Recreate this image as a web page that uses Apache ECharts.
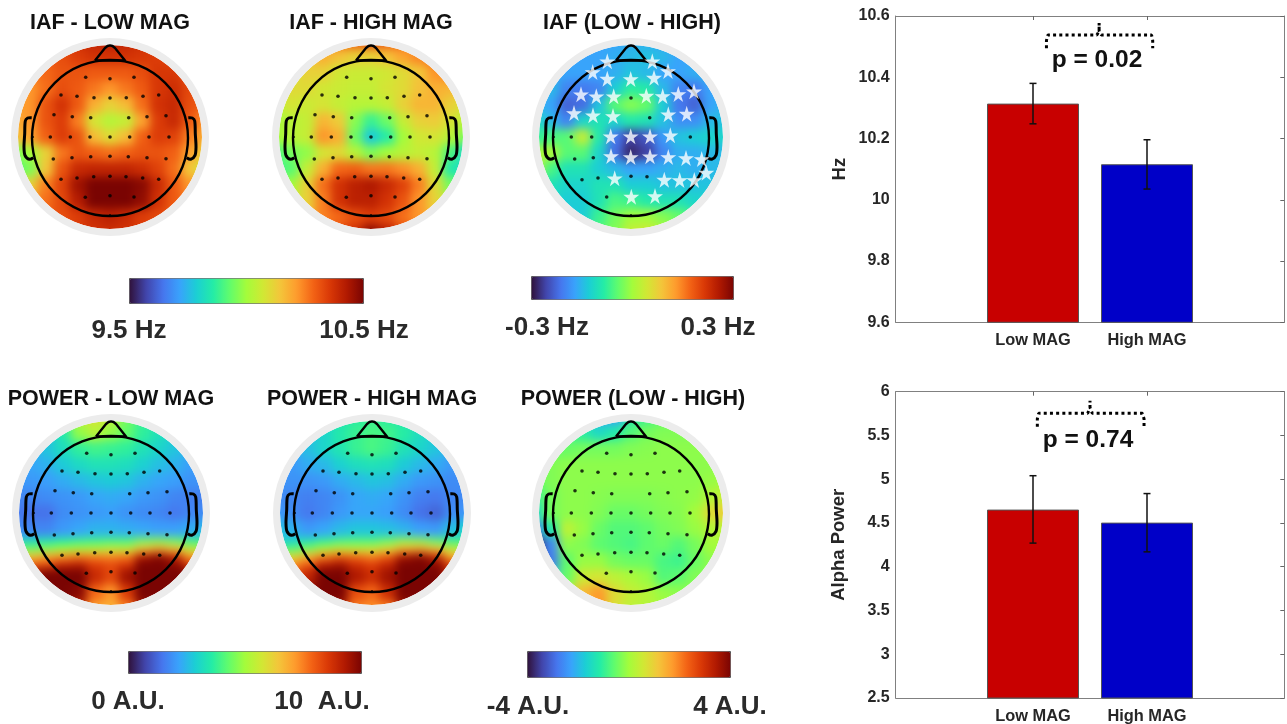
<!DOCTYPE html>
<html><head><meta charset="utf-8">
<style>html,body{margin:0;padding:0;background:#fff}#c{width:1287px;height:724px}</style>
<script src="https://cdn.jsdelivr.net/npm/echarts@6/dist/echarts.min.js"></script>
</head><body><div id="c"></div>
<script>
const n = null;
// topography grids, rows top to bottom, columns left to right
const gridStepsX = [-96,-80,-64,-48,-32,-16,0,16,32,48,64,80,96];
const gridStepsY = [-100,-92,-84,-76,-68,-60,-52,-44,-36,-28,-20,-12,-4,4,12,20,28,36,44,52,60,68,76,84,92,100];
const evenRowSpan = [2,2,2,2,2,2,2,2,2,2,2,2,2];
const bandRowSpan = [2,2,2,2,2,2,2,2,1,1,1,1,2,2,2];
const iafLow = [
[n,n,n,10.36,10.38,10.4,10.42,10.4,10.38,10.36,n,n,n],
[n,n,10.3,10.32,10.35,10.37,10.37,10.37,10.36,10.35,10.33,n,n],
[n,10.25,10.28,10.31,10.31,10.3,10.3,10.3,10.32,10.36,10.36,10.32,n],
[10.2,10.22,10.27,10.32,10.3,10.26,10.22,10.26,10.3,10.36,10.38,10.33,10.28],
[10.2,10.22,10.31,10.37,10.3,10.18,10.12,10.16,10.27,10.37,10.39,10.32,10.28],
[10.18,10.22,10.31,10.35,10.25,10.08,10.03,10.05,10.2,10.35,10.39,10.3,10.22],
[10.15,10.2,10.29,10.35,10.31,10.16,10.1,10.16,10.29,10.35,10.34,10.25,10.18],
[9.95,10.0,10.12,10.26,10.31,10.29,10.27,10.29,10.31,10.31,10.29,10.2,10.12],
[9.9,9.96,10.14,10.31,10.39,10.4,10.4,10.4,10.38,10.34,10.27,10.14,10.06],
[10.05,10.12,10.25,10.34,10.45,10.5,10.5,10.5,10.48,10.39,10.3,10.22,10.18],
[n,10.2,10.27,10.33,10.42,10.5,10.5,10.5,10.47,10.37,10.3,10.25,n],
[n,n,10.3,10.32,10.35,10.39,10.41,10.39,10.35,10.33,10.3,n,n],
[n,n,n,10.33,10.35,10.37,10.38,10.37,10.35,10.33,n,n,n]];
const iafHigh = [
[n,n,n,10.25,10.28,10.3,10.33,10.3,10.28,10.25,n,n,n],
[n,n,10.15,10.18,10.15,10.12,10.12,10.15,10.2,10.24,10.28,n,n],
[n,10.08,10.12,10.12,10.07,10.06,10.06,10.07,10.1,10.14,10.22,10.25,n],
[10.05,10.1,10.1,10.07,10.06,10.05,10.05,10.08,10.1,10.15,10.18,10.17,10.12],
[10.03,10.08,10.06,10.08,10.05,10.03,10.03,10.05,10.12,10.17,10.17,10.12,10.08],
[10.0,10.03,10.05,10.17,10.13,9.97,9.88,9.94,10.05,10.12,10.13,10.08,10.02],
[10.0,10.03,10.05,10.22,10.18,9.94,9.78,9.86,10.0,10.07,10.08,10.03,9.95],
[9.9,9.95,9.98,10.08,10.1,10.03,9.96,10.0,10.03,10.05,10.03,9.9,9.8],
[9.88,9.92,10.05,10.18,10.28,10.29,10.26,10.26,10.23,10.18,10.05,9.85,9.8],
[9.95,10.0,10.12,10.27,10.37,10.41,10.43,10.39,10.34,10.25,10.1,9.95,9.9],
[n,10.05,10.12,10.25,10.37,10.41,10.41,10.37,10.31,10.22,10.12,10.02,n],
[n,n,10.15,10.25,10.28,10.32,10.35,10.33,10.27,10.22,10.15,n,n],
[n,n,n,10.28,10.32,10.38,10.48,10.42,10.33,10.28,n,n,n]];
const iafDiff = [
[n,n,n,-.17,-.17,-.17,-.16,-.16,-.17,-.17,n,n,n],
[n,n,-.17,-.17,-.17,-.16,-.15,-.14,-.15,-.17,-.17,n,n],
[n,-.16,-.17,-.17,-.17,-.16,-.14,-.15,-.17,-.17,-.16,-.15,n],
[-.14,-.15,-.2,-.21,-.2,-.13,-.08,-.09,-.15,-.2,-.21,-.17,-.15],
[-.15,-.17,-.23,-.22,-.14,-.05,-.02,-.04,-.13,-.21,-.23,-.17,-.15],
[-.11,-.15,-.2,-.12,-.1,-.12,-.09,-.1,-.14,-.19,-.19,-.15,-.14],
[-.08,-.06,-.05,.03,-.09,-.21,-.26,-.24,-.18,-.14,-.13,-.12,-.12],
[0,.01,-.05,-.05,-.12,-.22,-.28,-.26,-.2,-.16,-.16,-.15,-.15],
[.03,-.06,-.1,-.1,-.13,-.15,-.17,-.17,-.16,-.15,-.16,-.15,-.15],
[-.08,-.1,-.12,-.12,-.1,-.1,-.13,-.13,-.14,-.14,-.14,-.14,-.14],
[n,-.12,-.13,-.13,-.1,-.06,-.07,-.09,-.1,-.1,-.12,-.12,n],
[n,n,-.14,-.13,-.07,-.03,0,0,-.02,-.04,-.07,n,n],
[n,n,n,-.1,-.05,-.02,.03,.04,.02,-.01,n,n,n]];
const powerLow = [
[n,n,n,4,5.5,5.8,5.5,4.5,3.8,3.3,n,n,n],
[n,n,2.5,3.5,4.8,5.3,4.8,4.3,3.7,3.3,2.9,n,n],
[n,2.3,2.7,3.2,3.7,3.9,3.8,3.7,3.3,3,2.7,2.3,n],
[2.1,2.2,2.4,2.8,3.1,3.3,3.3,3.2,2.9,2.6,2.4,2.1,2],
[2,2,2.1,2.3,2.5,2.7,2.8,2.7,2.4,2.2,2.1,1.9,1.9],
[1.7,1.7,1.8,1.9,2,2.2,2.3,2.2,2,1.9,1.7,1.6,1.6],
[1.5,1.4,1.4,1.8,1.9,2,2.1,1.9,1.8,1.7,1.5,1.7,1.8],
[1.8,1.7,1.7,2,2.2,2.4,2.4,2.3,2.2,2.1,2.1,2.3,2.5],
[3,3.2,3.4,3.6,3.8,3.9,4,4,4.5,4.6,4.4,3.9,3.7],
[4.3,4.5,4.7,5,5.2,5.3,5.5,5.5,6.5,7,6.5,5.5,5],
[6,6.5,7,7.3,7.6,7.5,7.4,7.6,9.3,9.8,9,7.3,6.8],
[7.5,8,8.3,9,9.2,8.5,8.3,8.6,10,10,9.8,8.6,8],
[n,9.5,10,10,10,8.9,8.3,9.5,10,10,10,10,n],
[n,n,10,10,9.8,7.8,7.2,8.5,10,10,10,n,n],
[n,n,n,10,9,7,6.8,7.5,9.5,10,n,n,n]];
const powerHigh = [
[n,n,n,3,3.3,3.6,3.8,3.6,3.4,3.1,n,n,n],
[n,n,2.6,3,3.5,3.8,4,3.9,3.6,3.2,2.8,n,n],
[n,2.2,2.6,3,3.4,3.8,4,3.8,3.3,3,2.7,2.3,n],
[2,2,2.3,2.5,2.9,3.2,3.3,3.2,2.8,2.5,2.3,2,2],
[1.9,1.9,1.9,2,2.3,2.5,2.7,2.6,2.3,2,1.9,1.8,1.8],
[1.8,1.7,1.6,1.7,1.9,2.2,2.3,2.2,1.9,1.6,1.5,1.7,1.8],
[2,1.8,1.5,1.7,2,2.2,2.2,2.1,1.8,1.4,1.2,1.8,2],
[2.7,2.4,2,2.2,2.5,2.7,2.7,2.6,2.4,2.1,2,2.6,2.9],
[2.9,3,3.3,3.7,4,4.1,4.1,4.4,4.8,4.7,4.3,3.9,3.8],
[3.8,4.2,4.6,5.2,5.6,5.5,5.6,6,6.8,7,6.5,5.5,5],
[5.6,6,6.8,7.5,8,7.8,7.5,8,9.4,9.8,9,7,6.3],
[6.8,7.3,8,9.2,9.5,8.8,8.5,9,10,10,9.8,8.6,8],
[n,8,9,10,10,9.3,8.8,9.5,10,10,10,9,n],
[n,n,10,10,10,8.2,7.8,8.8,10,10,10,n,n],
[n,n,n,10,9.5,7.5,7.3,7.5,9.5,10,n,n,n]];
const powerDiff = [
[n,n,n,-1.6,-2.2,-2.3,-1.2,-.9,-.6,-.4,n,n,n],
[n,n,-.9,-1.1,-1.5,-1.2,-.7,-.4,-.3,-.3,-.3,n,n],
[n,-.6,-.5,-.4,-.4,-.4,-.3,-.25,-.2,-.2,-.2,-.2,n],
[-.5,-.3,-.2,-.2,-.2,-.2,-.2,-.2,-.2,-.2,-.2,-.2,-.2],
[-.6,-.3,-.2,-.2,-.2,-.2,-.2,-.2,-.2,-.2,-.2,-.1,0],
[-1,-.4,-.2,-.2,-.25,-.3,-.3,-.3,-.25,-.2,-.15,.2,.5],
[-1.6,-.4,-.2,-.2,-.3,-.5,-.5,-.4,-.3,-.25,0,.8,1],
[-2.8,-1.2,.3,-.1,-.5,-.7,-.7,-.6,-.4,-.3,-.1,.2,.3],
[-4,-2.6,-.2,-.3,-.6,-.7,-.8,-.6,-.5,-.7,-.4,0,0],
[-4,-2.8,-.6,-.1,-.1,-.4,-.5,-.5,-.8,-.9,-.5,-.2,-.2],
[n,-2,-.5,.5,.6,.3,.1,-.1,-.7,-.6,-.3,-.2,n],
[n,n,.2,1.3,1.7,.8,.4,.2,-.1,-.2,-.2,n,n],
[n,n,n,1.5,1.8,.7,.3,.2,.1,0,n,n,n]];

// sensors
const sensorX = [-24.3,0,24, -49,-33,-16,0,16.3,33,48.7, -56,-37.7,-19.3,18.7,37,56, -59.7,-39.7,-20,0,19.7,39,59, -56.7,-38,-19.3,0,18.3,37,56, -49,-33,-16.3,0,16,32.7,48.7, -24.7,0,24];
const sensorY = [59.7,58.3,59.7, 42,40.7,39.3,39,39.3,40.7,42, 22.3,20.3,19.3,19.3,20.3,21.3, 0,0,0,0,0,0,0, -22,-20.7,-19.7,-19.3,-19.7,-20.7,-21.7, -42.3,-41,-39.7,-39.3,-39.7,-41,-42.3, -60.3,-58.7,-60];
const edgeSensorX = [-77,78,0];
const edgeSensorY = [0,0,-78];
const diffDotX = [0,18.7,-59.7,-39.3,59.3,-56.3,-37.7,-49,-33,0,16,-24.3];
const diffDotY = [39,19.3,0,0,0,-22,-20.7,-42.7,-41,-39.3,-39.7,-60];
const starX = [-23.7,21.3,-38.3,37,-23.7,-.3,23,-50,-34.7,-17.3,15.3,31.7,47.3,63,-57,-38,-18,37.3,55.7,-20.3,-.3,19,39.3,-20,-.3,19,37.3,55,70.7,75.3,-16.3,33.3,48.7,63.3,.3,24];
const starY = [75.7,75.7,65,66,58.3,58,59.3,42.7,40.7,40.7,41.3,41,43,45.7,24,21.7,21,22.7,23.3,.7,.7,.7,1.7,-19,-20,-19.3,-20,-21,-22,-35.7,-41.3,-42.7,-43,-43,-59.7,-59];

// head outline
const noseX = [-15,-5,-2.5,0,2.5,5,15,-15];
const noseY = [76.5,89,91,91.6,91,89,76.5,76.5];
const earX = [78.3,82.3,84.7,85.3,86,85,80.7,76.7];
const earY = [19.3,19,16,3.3,-10,-18.3,-22.3,-20.7];

// bars
const barNames = ['Low MAG','High MAG'];
const barPos = [1,2];
const barColors = ['#c80000','#0000c8'];
const iafMeans = [10.314,10.116];
const iafLo = [10.248,10.035];
const iafHi = [10.38,10.196];
const powerMeans = [4.653,4.504];
const powerLo = [4.27,4.17];
const powerHi = [5.04,4.836];
const iafBracketX = [1.118,1.118,1.13,1.56,1.58,1.58,1.58,1.6,2.04,2.05,2.05];
const iafBracketY = [10.495,10.52,10.538,10.538,10.55,10.577,10.55,10.538,10.538,10.52,10.495];
const powerBracketX = [1.038,1.038,1.05,1.48,1.5,1.5,1.5,1.52,1.96,1.974,1.974];
const powerBracketY = [5.6,5.69,5.753,5.753,5.82,5.897,5.82,5.753,5.753,5.69,5.6];

const turbo = ['#30123b','#4145ab','#4675ed','#39a2fc','#1bcfd4','#24eca6','#61fc6c','#a4fc3b','#d1e834','#f3c63a','#fe9b2d','#f36315','#d93806','#b11901','#7a0402'];
const FONT = '"Liberation Sans", Arial, sans-serif';

const topos = [
 {t:'IAF - LOW MAG', cx:110, cy:137, m:iafLow, span:evenRowSpan, tx:110, ty:23, vm:0},
 {t:'IAF - HIGH MAG', cx:371, cy:137, m:iafHigh, span:evenRowSpan, tx:371, ty:23, vm:0},
 {t:'IAF (LOW - HIGH)', cx:631, cy:137, m:iafDiff, span:evenRowSpan, tx:632, ty:23, vm:1, stars:true},
 {t:'POWER - LOW MAG', cx:111, cy:513, m:powerLow, span:bandRowSpan, tx:111, ty:399, vm:2},
 {t:'POWER - HIGH MAG', cx:372, cy:513, m:powerHigh, span:bandRowSpan, tx:372, ty:399, vm:2},
 {t:'POWER (LOW - HIGH)', cx:631, cy:513, m:powerDiff, span:evenRowSpan, tx:633, ty:399, vm:3}
];
const maps = [
 {min:9.5,max:10.5,left:129,top:278,w:234,h:25},
 {min:-.3,max:.3,left:531,top:276,w:202,h:23},
 {min:0,max:10,left:128,top:651,w:233,h:22},
 {min:-4,max:4,left:527,top:651,w:203,h:26}
];
const barLabels = [
 ['9.5 Hz',129,331],['10.5 Hz',364,331],['-0.3 Hz',547,328],['0.3 Hz',718,328],
 ['0 A.U.',128,702],['10  A.U.',322,702],['-4 A.U.',528,707],['4 A.U.',730,707]
];

const grid=[],xAxis=[],yAxis=[],series=[],title=[];
const vmSeries=[[],[],[],[]];
const hidden={show:false};
function outline(api){
  const pts=(xs,ys,sign)=>xs.map((x,i)=>api.coord([x*sign,ys[i]]));
  const c=api.coord([0,0]);
  const c2=api.coord([0,-1]);
  const black={fill:null,stroke:'#000',lineWidth:2.4,lineJoin:'round'};
  return {type:'group',children:[
    {type:'ring',shape:{cx:c[0],cy:c[1],r:140,r0:92},style:{fill:'#fff'}},
    {type:'ring',shape:{cx:c[0],cy:c[1],r:99,r0:92},style:{fill:'#ececec'}},
    {type:'circle',shape:{cx:c2[0],cy:c2[1],r:78},style:black},
    {type:'polyline',shape:{points:pts(noseX,noseY,1)},style:black},
    {type:'polyline',shape:{points:pts(earX,earY,1),smooth:0.3},style:{...black,lineWidth:3}},
    {type:'polyline',shape:{points:pts(earX,earY,-1),smooth:0.3},style:{...black,lineWidth:3}}
  ]};
}
topos.forEach(tp=>{
  const S=104;
  const rect={left:tp.cx-S,top:tp.cy-S,width:2*S,height:2*S};
  grid.push(rect,{...rect});
  const g=grid.length-2;
  xAxis.push({gridIndex:g,type:'category',data:gridStepsX,...hidden},{gridIndex:g+1,type:'value',min:-S,max:S,...hidden});
  yAxis.push({gridIndex:g,type:'category',data:gridStepsY,...hidden},{gridIndex:g+1,type:'value',min:-S,max:S,...hidden});
  const cells=[];
  let level=25;
  tp.m.forEach((row,r)=>{
    for(let k=0;k<tp.span[r];k++){
      row.forEach((v,c)=>{ if(v!==null) cells.push([c,level,v]); });
      level--;
    }
  });
  vmSeries[tp.vm].push(series.length);
  series.push({type:'heatmap',xAxisIndex:g,yAxisIndex:g,data:cells,zlevel:-1,silent:true,progressive:0,itemStyle:{borderWidth:0}});
  series.push({type:'custom',xAxisIndex:g+1,yAxisIndex:g+1,data:[[0,0]],z:1,silent:true,clip:false,renderItem:(p,api)=>outline(api)});
  const xs=tp.stars?diffDotX:sensorX, ys=tp.stars?diffDotY:sensorY;
  series.push({type:'scatter',xAxisIndex:g+1,yAxisIndex:g+1,z:5,silent:true,symbolSize:3.6,itemStyle:{color:'#000'},data:xs.map((x,i)=>[x,ys[i]])});
  series.push({type:'scatter',xAxisIndex:g+1,yAxisIndex:g+1,z:5,silent:true,symbolSize:2.2,itemStyle:{color:'#000'},data:edgeSensorX.map((x,i)=>[x,edgeSensorY[i]])});
  if(tp.stars) series.push({type:'scatter',xAxisIndex:g+1,yAxisIndex:g+1,z:6,silent:true,symbol:'path://M50,0 L61,35 L98,35 L68,57 L79,91 L50,70 L21,91 L32,57 L2,35 L39,35 Z',symbolSize:16,itemStyle:{color:'#fff'},data:starX.map((x,i)=>[x,starY[i]])});
  title.push({text:tp.t,left:tp.tx,top:tp.ty,textAlign:'center',textVerticalAlign:'middle',padding:0,textStyle:{fontFamily:FONT,fontWeight:'bold',fontSize:21.5,color:'#111'}});
});
barLabels.forEach(b=>title.push({text:b[0],left:b[1],top:b[2],textAlign:'center',textVerticalAlign:'middle',padding:0,textStyle:{fontFamily:FONT,fontWeight:'bold',fontSize:26,color:'#2a2a2a'}}));

const visualMap=maps.map((m,i)=>({type:'continuous',min:m.min,max:m.max,orient:'horizontal',left:m.left,top:m.top,itemWidth:m.h,itemHeight:m.w,padding:0,calculable:false,hoverLink:false,text:null,showLabel:false,seriesIndex:vmSeries[i],inRange:{color:turbo},borderColor:'#555',borderWidth:1,textStyle:{fontSize:0,color:'transparent'},formatter:()=>''}));

function barPanel(top,height,ymin,ymax,step,means,lo,hi,bx,by,name,nameGap,pText,px,py){
  const g=grid.length;
  const L=895.7,W=388.6;
  grid.push({left:L,top:top,width:W,height:height});
  const xmin=1-(1033-L)/114,xmax=2+(L+W-1147)/114;
  const axisLine={show:true,onZero:false,lineStyle:{color:'#808080',width:1}};
  const tickStyle={color:'#666',width:1};
  const xi=xAxis.length, yi=yAxis.length;
  xAxis.push({gridIndex:g,type:'value',position:'bottom',min:xmin,max:xmax,splitLine:{show:false},axisLine,
    axisTick:{show:true,inside:true,length:4,lineStyle:tickStyle,customValues:barPos},
    axisLabel:{show:true,margin:10,customValues:barPos,formatter:v=>barNames[barPos.indexOf(v)]||'',fontFamily:FONT,fontWeight:'bold',fontSize:16.4,color:'#262626',hideOverlap:false}},
   {gridIndex:g,type:'value',position:'top',min:xmin,max:xmax,splitLine:{show:false},axisLine,
    axisTick:{show:true,inside:true,length:4,lineStyle:tickStyle,customValues:barPos},axisLabel:{show:false}});
  yAxis.push({gridIndex:g,type:'value',position:'left',min:ymin,max:ymax,interval:step,splitLine:{show:false},axisLine,axisTick:{show:false},
    name,nameLocation:'middle',nameGap,nameRotate:90,nameTextStyle:{fontFamily:FONT,fontWeight:'bold',fontSize:18.5,color:'#262626'},
    axisLabel:{margin:6,fontFamily:FONT,fontWeight:'bold',fontSize:16,color:'#262626'}},
   {gridIndex:g,type:'value',position:'right',min:ymin,max:ymax,interval:step,splitLine:{show:false},axisLine,
    axisTick:{show:true,inside:true,length:4,lineStyle:tickStyle},axisLabel:{show:false}});
  series.push({type:'bar',xAxisIndex:xi,yAxisIndex:yi,barWidth:92,silent:true,
    data:means.map((v,i)=>({value:[barPos[i],v],itemStyle:{color:barColors[i],borderColor:'#555',borderWidth:1}}))});
  series.push({type:'custom',xAxisIndex:xi,yAxisIndex:yi,silent:true,z:5,data:means.map((v,i)=>[barPos[i],lo[i],hi[i]]),
    renderItem:(p,api)=>{
      const a=api.coord([api.value(0),api.value(1)]),b=api.coord([api.value(0),api.value(2)]);
      const st={stroke:'#111',lineWidth:1.5,fill:null};
      return {type:'group',children:[
        {type:'line',shape:{x1:a[0],y1:a[1],x2:b[0],y2:b[1]},style:st},
        {type:'line',shape:{x1:a[0]-3.5,y1:a[1],x2:a[0]+3.5,y2:a[1]},style:st},
        {type:'line',shape:{x1:b[0]-3.5,y1:b[1],x2:b[0]+3.5,y2:b[1]},style:st}]};
    }});
  series.push({type:'line',xAxisIndex:xi,yAxisIndex:yi,silent:true,z:6,symbol:'none',data:bx.map((x,i)=>[x,by[i]]),lineStyle:{color:'#000',width:3,type:[3,3.2]}});
  title.push({text:pText,left:px,top:py,textAlign:'center',textVerticalAlign:'middle',padding:0,textStyle:{fontFamily:FONT,fontWeight:'bold',fontSize:24.5,color:'#111'}});
}
barPanel(16,306.3,9.6,10.6,.2,iafMeans,iafLo,iafHi,iafBracketX,iafBracketY,'Hz',46,'p = 0.02',1097,60);
barPanel(391.7,306.6,2.5,6,.5,powerMeans,powerLo,powerHi,powerBracketX,powerBracketY,'Alpha Power',47,'p = 0.74',1088,440);

const chart=echarts.init(document.getElementById('c'),null,{renderer:'canvas'});
chart.setOption({animation:false,backgroundColor:'transparent',textStyle:{fontFamily:FONT},tooltip:{show:false},title,grid,xAxis,yAxis,visualMap,series});
function blurHeat(){
  const cs=document.querySelectorAll('#c canvas');
  if(cs.length>1) cs[0].style.filter='blur(5px)';
}
blurHeat();
chart.on('finished',blurHeat);
</script></body></html>
